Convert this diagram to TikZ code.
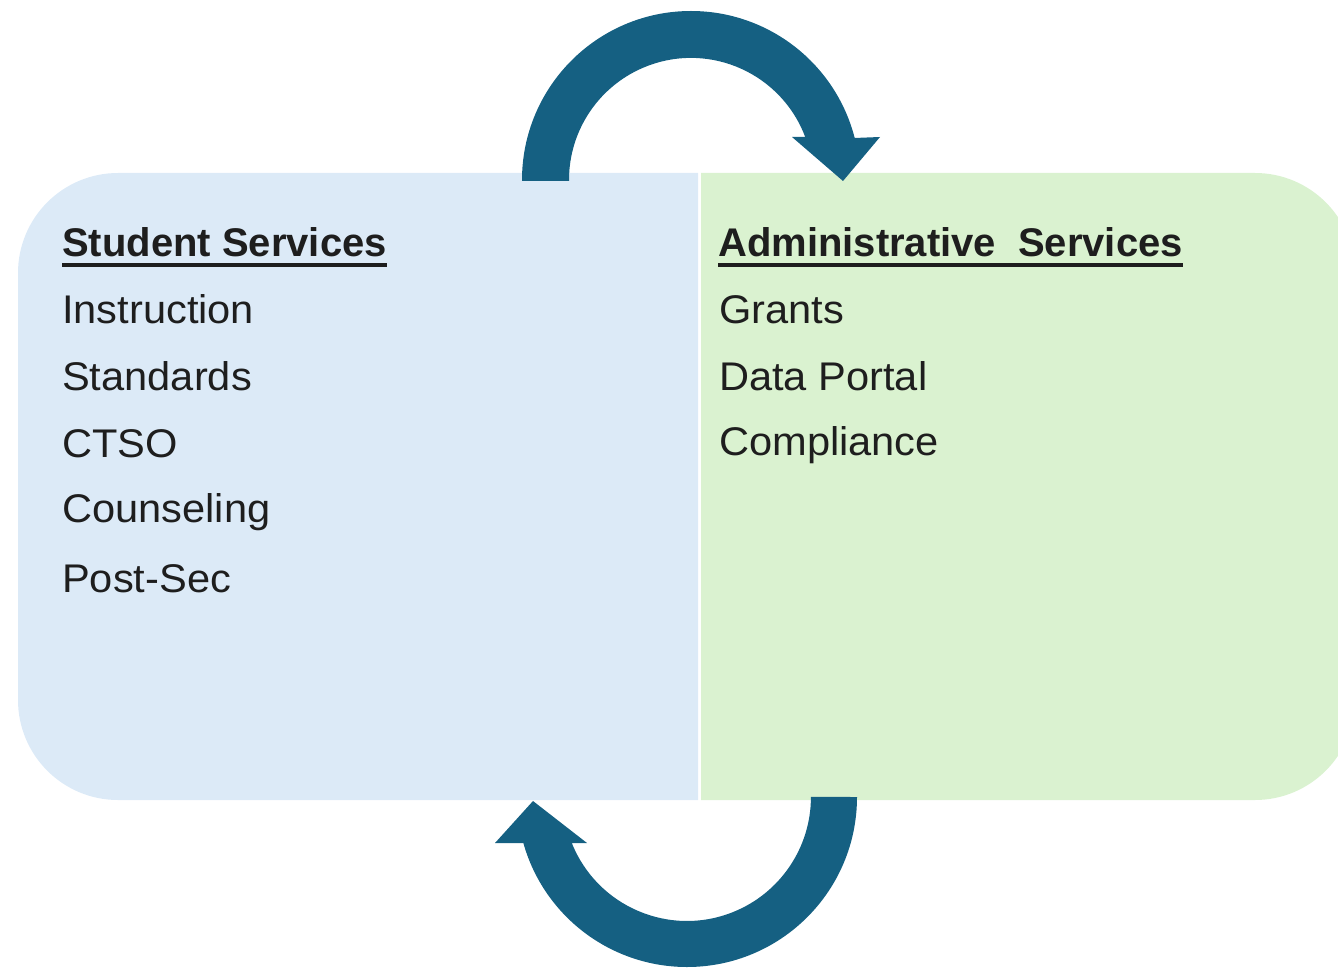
\documentclass[tikz,border=0pt]{standalone}
\usepackage{fontspec}
\setmainfont{Liberation Sans}
\newfontfamily\itemfont[FakeStretch=1.04]{Liberation Sans}
\definecolor{boxblue}{HTML}{DCEAF7}
\definecolor{boxgreen}{HTML}{DAF2D0}
\definecolor{arrowteal}{HTML}{156082}
\definecolor{txt}{HTML}{1E1E1E}
\begin{document}
\begin{tikzpicture}[x=1pt,y=-1pt,
  item/.style={anchor=base west,inner sep=0pt,text=txt,font=\itemfont\fontsize{40}{48}\selectfont},
  heading/.style={anchor=base west,inner sep=0pt,text=txt,font=\fontsize{40}{48}\selectfont\bfseries},
  uline/.style={draw=txt,line width=3.5pt}]
\useasboundingbox (0,0) rectangle (1338,968);
\clip (0,0) rectangle (1338,968);
% boxes
\fill[boxblue] (698,173) -- (118,173) arc[start angle=90,end angle=180,radius=100pt]
  -- (18,700) arc[start angle=180,end angle=270,radius=100pt] -- (698,800) -- cycle;
\fill[boxgreen] (701,173) -- (1255,173) arc[start angle=90,end angle=0,radius=100pt]
  -- (1355,700) arc[start angle=0,end angle=-90,radius=100pt] -- (701,800) -- cycle;
% top arrow
\fill[arrowteal] (522,181) -- (522,180) arc[start angle=180,end angle=14.4,radius=169pt]
  -- (880,137) -- (843,181) -- (792,137) -- (805.2,137)
  arc[start angle=20.6,end angle=180,radius=122pt] -- (569,181) -- cycle;
% bottom arrow
\fill[arrowteal] (857,797) arc[start angle=0,end angle=-164.3,radius=170pt]
  -- (495,843) -- (533,801) -- (587,843) -- (571.8,843)
  arc[start angle=-158.2,end angle=0,radius=124pt] -- cycle;
% left texts
\node[heading] (h1) at (62,257) {Student Services};
\draw[uline] ([yshift=-8pt]h1.base west) -- ([yshift=-8pt]h1.base east);
\node[item] (a1) at (62,323) {Instruction};
\node[item] (a2) at (62,390) {Standards};
\node[item] (a3) at (62,457) {CTSO};
\node[item] (a4) at (62,522) {Counseling};
\node[item] (a5) at (62,592) {Post-Sec};
% right texts
\node[heading] (h2) at (718,257) {Administrative\ \ Services};
\draw[uline] ([yshift=-8pt]h2.base west) -- ([yshift=-8pt]h2.base east);
\node[item] (b1) at (719,323) {Grants};
\node[item] (b2) at (719,390) {Data Portal};
\node[item] (b3) at (719,455) {Compliance};
\end{tikzpicture}
\end{document}
